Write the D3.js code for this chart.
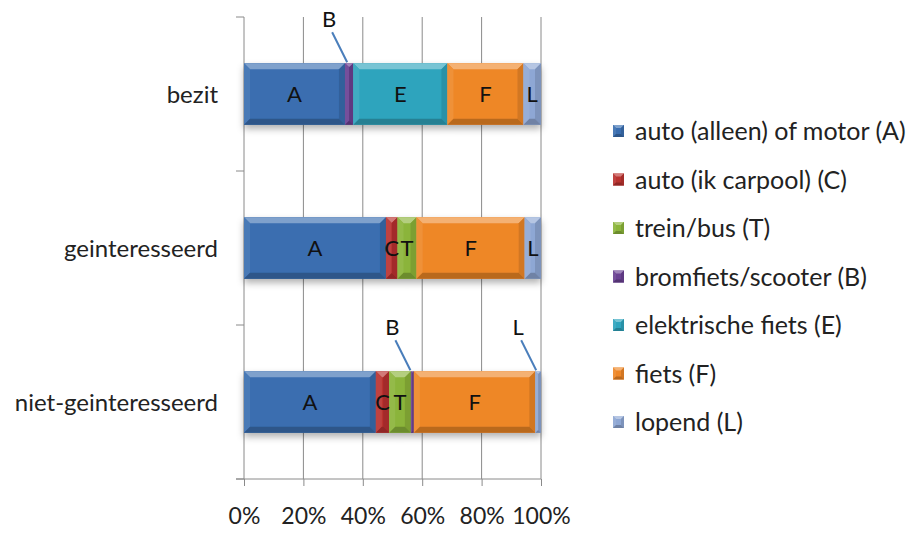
<!DOCTYPE html>
<html>
<head>
<meta charset="utf-8">
<script src="https://cdn.jsdelivr.net/npm/d3@7"></script>
<style>
  html, body { margin: 0; padding: 0; background: #fff; }
  svg { display: block; font-family: Lato, "Open Sans", sans-serif; }
</style>
</head>
<body>
<svg id="chart" width="911" height="533"></svg>
<script>
// Categories (top to bottom) and the modes of transport, stacked left to right
const categories = ["bezit", "geinteresseerd", "niet-geinteresseerd"];
const seriesKeys = ["A", "C", "T", "B", "E", "F", "L"];
const seriesNames = [
  "auto (alleen) of motor (A)",
  "auto (ik carpool) (C)",
  "trein/bus (T)",
  "bromfiets/scooter (B)",
  "elektrische fiets (E)",
  "fiets (F)",
  "lopend (L)"
];
const seriesColors = ["#3a6eb0", "#b9322f", "#8bb43a", "#6a4192", "#2fa4bd", "#ee8728", "#8ea7d4"];

// Shares (%) per category, in seriesKeys order
const bezit = [34.0, 0, 0, 2.8, 31.7, 25.6, 5.9];
const geinteresseerd = [47.8, 3.9, 6.4, 0, 0, 36.4, 5.5];
const nietGeinteresseerd = [44.4, 4.5, 7.3, 1.0, 0, 40.9, 1.9];

// Segments labelled outside the bar with a leader line
const calloutLabels = [
  { category: "bezit", key: "B" },
  { category: "niet-geinteresseerd", key: "B" },
  { category: "niet-geinteresseerd", key: "L" }
];

const tickLabels = ["0%", "20%", "40%", "60%", "80%", "100%"];

const valuesByCategory = {
  "bezit": bezit,
  "geinteresseerd": geinteresseerd,
  "niet-geinteresseerd": nietGeinteresseerd
};

const table = categories.map(c => {
  const row = { category: c };
  seriesKeys.forEach((k, i) => row[k] = valuesByCategory[c][i] / 100);
  return row;
});

const svg = d3.select("#chart");
const plot = { left: 244, right: 541, top: 17, bottom: 479 };

const x = d3.scaleLinear().domain([0, 1]).range([plot.left, plot.right]);
const y = d3.scaleBand().domain(categories).range([plot.top, plot.bottom])
  .paddingInner(0.6).paddingOuter(0.3);
const color = d3.scaleOrdinal().domain(seriesKeys).range(seriesColors);

const defs = svg.append("defs");
const shadow = defs.append("filter").attr("id", "barShadow")
  .attr("x", "-10%").attr("y", "-20%").attr("width", "120%").attr("height", "160%");
shadow.append("feDropShadow").attr("dx", 0).attr("dy", 4).attr("stdDeviation", 3.5)
  .attr("flood-color", "#000").attr("flood-opacity", 0.3);

// Gridlines and tick marks of the value axis
const gridColor = "#8a8a8a";
const xTicks = tickLabels.map(t => parseFloat(t) / 100);
svg.append("g").selectAll("line").data(xTicks).join("line")
  .attr("x1", d => x(d)).attr("x2", d => x(d))
  .attr("y1", plot.top).attr("y2", plot.bottom)
  .attr("stroke", gridColor).attr("stroke-width", 1);

const xAxis = d3.axisBottom(x).tickValues(xTicks)
  .tickFormat((d, i) => tickLabels[i]).tickSize(7).tickPadding(22);
const gx = svg.append("g").attr("transform", `translate(0,${plot.bottom})`).call(xAxis);
gx.select(".domain").remove();
gx.selectAll(".tick line").attr("stroke", gridColor);
gx.selectAll(".tick text").attr("font-size", 23).attr("fill", "#222")
  .attr("font-family", "Lato, sans-serif");
svg.append("line").attr("x1", plot.left - 8).attr("x2", plot.right)
  .attr("y1", plot.bottom).attr("y2", plot.bottom).attr("stroke", gridColor);

// Category axis: boundary ticks and labels
const step = y.step();
const bounds = d3.range(categories.length + 1).map(i => plot.top + i * step);
svg.append("g").selectAll("line").data(bounds).join("line")
  .attr("x1", plot.left - 8).attr("x2", plot.left)
  .attr("y1", d => d).attr("y2", d => d)
  .attr("stroke", gridColor);
svg.append("g").selectAll("text").data(categories).join("text")
  .attr("x", 218).attr("y", d => y(d) + y.bandwidth() / 2)
  .attr("dy", "0.36em").attr("text-anchor", "end")
  .attr("font-size", 24).attr("fill", "#222").text(d => d);

// Draws a bevelled rectangle (light top/left edges, dark bottom/right)
function bevelRect(g, x0, y0, w, h, base, b) {
  b = Math.min(b, w / 2, h / 2);
  const c = d3.color(base);
  const top = d3.interpolateRgb(base, "#ffffff")(0.35);
  const left = d3.interpolateRgb(base, "#ffffff")(0.08);
  const right = d3.color(base).darker(0.35);
  const bottom = d3.color(base).darker(0.7);
  const x1 = x0 + w, y1 = y0 + h;
  g.append("rect").attr("x", x0).attr("y", y0).attr("width", w).attr("height", h).attr("fill", c);
  const poly = (pts, fill) => g.append("polygon")
    .attr("points", pts.map(p => p.join(",")).join(" ")).attr("fill", fill);
  poly([[x0, y0], [x1, y0], [x1 - b, y0 + b], [x0 + b, y0 + b]], top);
  poly([[x0, y0], [x0 + b, y0 + b], [x0 + b, y1 - b], [x0, y1]], left);
  poly([[x1, y0], [x1, y1], [x1 - b, y1 - b], [x1 - b, y0 + b]], right);
  poly([[x0, y1], [x0 + b, y1 - b], [x1 - b, y1 - b], [x1, y1]], bottom);
}

const stacked = d3.stack().keys(seriesKeys)(table);

const bars = svg.append("g").attr("filter", "url(#barShadow)");
stacked.forEach(layer => {
  layer.forEach(seg => {
    const w = x(seg[1]) - x(seg[0]);
    if (w <= 0) return;
    const g = bars.append("g");
    bevelRect(g, x(seg[0]), y(seg.data.category), w, y.bandwidth(), color(layer.key), 6);
  });
});

// Letter labels, inside the segment or as a callout with a leader line
const labels = svg.append("g").attr("font-size", 22).attr("fill", "#111").attr("text-anchor", "middle");
stacked.forEach(layer => {
  layer.forEach(seg => {
    if (seg[1] - seg[0] <= 0) return;
    const cat = seg.data.category;
    const cx = x((seg[0] + seg[1]) / 2);
    const top = y(cat);
    const isCallout = calloutLabels.some(o => o.category === cat && o.key === layer.key);
    if (isCallout) {
      const lx = cx - 20, ly = top - 44;
      svg.append("line").attr("x1", lx + 3).attr("y1", ly + 13)
        .attr("x2", cx - 2).attr("y2", top - 1)
        .attr("stroke", "#4a7ebb").attr("stroke-width", 2);
      labels.append("text").attr("x", lx).attr("y", ly).attr("dy", "0.36em").text(layer.key);
    } else {
      labels.append("text").attr("x", cx).attr("y", top + y.bandwidth() / 2)
        .attr("dy", "0.36em").text(layer.key);
    }
  });
});

// Legend
const legend = svg.append("g").attr("transform", "translate(613,131)");
const rowGap = 48.5;
seriesKeys.forEach((k, i) => {
  const g = legend.append("g").attr("transform", `translate(0,${i * rowGap})`);
  bevelRect(g, 0, -6, 11, 12, color(k), 3);
  g.append("text").attr("x", 22).attr("y", 0).attr("dy", "0.36em")
    .attr("font-size", 25).attr("fill", "#222").text(seriesNames[i]);
});
</script>
</body>
</html>
